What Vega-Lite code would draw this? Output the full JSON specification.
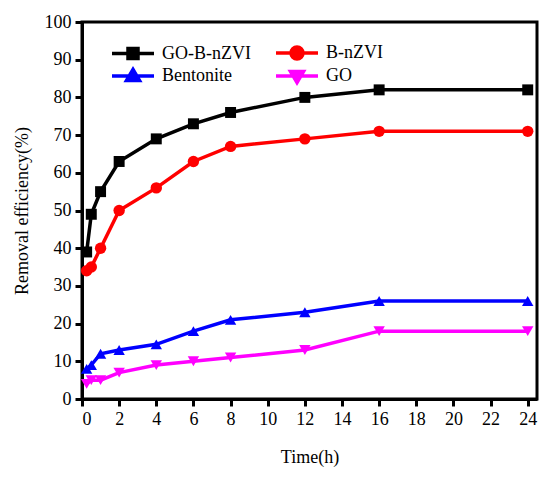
{
  "$schema": "https://vega.github.io/schema/vega-lite/v6.json",
  "width": 455,
  "height": 377,
  "padding": {"left": 82, "top": 22, "right": 13, "bottom": 78},
  "autosize": {"type": "none"},
  "background": "white",
  "data": {
    "values": [
      {"t": 0.25, "v": 39, "s": "GO-B-nZVI"}, {"t": 0.5, "v": 49, "s": "GO-B-nZVI"},
      {"t": 1, "v": 55, "s": "GO-B-nZVI"}, {"t": 2, "v": 63, "s": "GO-B-nZVI"},
      {"t": 4, "v": 69, "s": "GO-B-nZVI"}, {"t": 6, "v": 73, "s": "GO-B-nZVI"},
      {"t": 8, "v": 76, "s": "GO-B-nZVI"}, {"t": 12, "v": 80, "s": "GO-B-nZVI"},
      {"t": 16, "v": 82, "s": "GO-B-nZVI"}, {"t": 24, "v": 82, "s": "GO-B-nZVI"},
      {"t": 0.25, "v": 34, "s": "B-nZVI"}, {"t": 0.5, "v": 35, "s": "B-nZVI"},
      {"t": 1, "v": 40, "s": "B-nZVI"}, {"t": 2, "v": 50, "s": "B-nZVI"},
      {"t": 4, "v": 56, "s": "B-nZVI"}, {"t": 6, "v": 63, "s": "B-nZVI"},
      {"t": 8, "v": 67, "s": "B-nZVI"}, {"t": 12, "v": 69, "s": "B-nZVI"},
      {"t": 16, "v": 71, "s": "B-nZVI"}, {"t": 24, "v": 71, "s": "B-nZVI"},
      {"t": 0.25, "v": 8, "s": "Bentonite"}, {"t": 0.5, "v": 9, "s": "Bentonite"},
      {"t": 1, "v": 12, "s": "Bentonite"}, {"t": 2, "v": 13, "s": "Bentonite"},
      {"t": 4, "v": 14.5, "s": "Bentonite"}, {"t": 6, "v": 18, "s": "Bentonite"},
      {"t": 8, "v": 21, "s": "Bentonite"}, {"t": 12, "v": 23, "s": "Bentonite"},
      {"t": 16, "v": 26, "s": "Bentonite"}, {"t": 24, "v": 26, "s": "Bentonite"},
      {"t": 0.25, "v": 4, "s": "GO"}, {"t": 0.5, "v": 5, "s": "GO"},
      {"t": 1, "v": 5, "s": "GO"}, {"t": 2, "v": 7, "s": "GO"},
      {"t": 4, "v": 9, "s": "GO"}, {"t": 6, "v": 10, "s": "GO"},
      {"t": 8, "v": 11, "s": "GO"}, {"t": 12, "v": 13, "s": "GO"},
      {"t": 16, "v": 18, "s": "GO"}, {"t": 24, "v": 18, "s": "GO"}
    ]
  },
  "encoding": {
    "x": {
      "field": "t", "type": "quantitative", "title": "Time(h)",
      "scale": {"domain": [0, 24.5], "nice": false, "zero": false},
      "axis": {"values": [0, 2, 4, 6, 8, 10, 12, 14, 16, 18, 20, 22, 24], "titlePadding": 20}
    },
    "y": {
      "field": "v", "type": "quantitative", "title": "Removal efficiency(%)",
      "scale": {"domain": [0, 100], "nice": false},
      "axis": {"values": [0, 10, 20, 30, 40, 50, 60, 70, 80, 90, 100], "titlePadding": 13}
    },
    "color": {
      "field": "s", "type": "nominal", "title": null,
      "scale": {
        "domain": ["GO-B-nZVI", "Bentonite", "B-nZVI", "GO"],
        "range": ["#000000", "#0000ff", "#ff0000", "#ff00ff"]
      },
      "legend": {
        "orient": "none", "legendX": 42, "legendY": 22, "columns": 2,
        "columnPadding": 18, "rowPadding": -4, "padding": 0,
        "symbolSize": 100, "symbolStrokeWidth": 3.5, "labelOffset": 20,
        "labelFontSize": 18, "labelFont": "Liberation Serif", "labelColor": "#000",
        "encode": {
          "symbols": {
            "update": {
              "shape": {"signal": "datum.value === 'GO-B-nZVI' ? 'M-4.2,0H4.2M-1,-1H1V1H-1Z' : datum.value === 'B-nZVI' ? 'M-4.2,0H4.2M1.2,0A1.2,1.2 0 1,1 -1.2,0A1.2,1.2 0 1,1 1.2,0Z' : datum.value === 'Bentonite' ? 'M-4.2,0H4.2M0,-1.3L1.3,0.9L-1.3,0.9Z' : 'M-4.2,0H4.2M0,1.3L1.3,-0.9L-1.3,-0.9Z'"},
              "fill": {"scale": "color", "field": "value"},
              "stroke": {"scale": "color", "field": "value"},
              "opacity": {"value": 1}
            }
          }
        }
      }
    }
  },
  "layer": [
    {"mark": {"type": "line", "strokeWidth": 3.5}},
    {
      "transform": [{"filter": "datum.s === 'GO-B-nZVI'"}],
      "mark": {"type": "point", "shape": "square", "filled": true, "opacity": 1, "size": 120}
    },
    {
      "transform": [{"filter": "datum.s === 'B-nZVI'"}],
      "mark": {"type": "point", "shape": "circle", "filled": true, "opacity": 1, "size": 130}
    },
    {
      "transform": [{"filter": "datum.s === 'Bentonite'"}],
      "mark": {"type": "point", "shape": "triangle-up", "filled": true, "opacity": 1, "size": 130}
    },
    {
      "transform": [{"filter": "datum.s === 'GO'"}],
      "mark": {"type": "point", "shape": "triangle-down", "filled": true, "opacity": 1, "size": 130}
    }
  ],
  "config": {
    "view": {"stroke": "#000", "strokeWidth": 3},
    "axis": {
      "grid": false, "domainColor": "#000", "domainWidth": 3,
      "tickColor": "#000", "tickWidth": 3, "tickSize": 7,
      "labelFont": "Liberation Serif", "labelFontSize": 18, "labelColor": "#000",
      "titleFont": "Liberation Serif", "titleFontSize": 18, "titleFontWeight": "normal",
      "titleColor": "#000", "labelPadding": 4
    }
  }
}
